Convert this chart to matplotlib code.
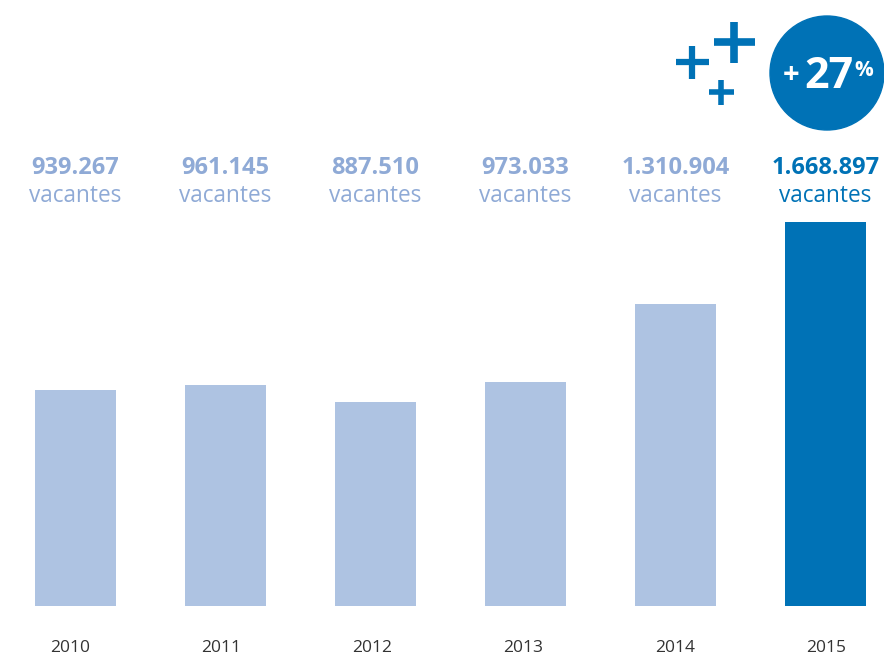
import matplotlib.pyplot as plt
from matplotlib.patches import Ellipse
from matplotlib.lines import Line2D

# data
years = ["2010", "2011", "2012", "2013", "2014", "2015"]
vacantes = [939267, 961145, 887510, 973033, 1310904, 1668897]
value_labels = ["939.267", "961.145", "887.510", "973.033", "1.310.904", "1.668.897"]
growth_label = "27"

light = "#aec3e2"
light_text = "#8faad6"
dark = "#0072b6"

plt.rcParams['font.family'] = ['Open Sans', 'DejaVu Sans']

W, H = 884, 657
fig = plt.figure(figsize=(W / 100, H / 100), dpi=100)
ax = fig.add_axes([0, 51 / H, 1, 606 / H])

x = list(range(len(years)))
colors = [light] * (len(years) - 1) + [dark]
ax.bar(x, vacantes, width=0.54, color=colors)
ax.set_xlim(-75.5 / 150, (W - 75.5) / 150)
ax.set_ylim(0, max(vacantes) * 606 / 384)
ax.axis("off")

# labels above the bars and years below
for i, (lab, yr) in enumerate(zip(value_labels, years)):
    c = dark if i == len(years) - 1 else light_text
    xf = (75.5 + 150 * i) / W
    fig.text(xf, 1 - 168 / H, lab, ha="center", va="center", fontsize=17,
             fontweight="bold", color=c)
    fig.text(xf, 1 - 196 / H, "vacantes", ha="center", va="center",
             fontsize=16.3, color=c)
    fig.text((70 + 151.2 * i) / W, 1 - 648 / H, yr, ha="center", va="center",
             fontsize=12.5, color="#333333")

# growth badge
circ = Ellipse((827 / W, 1 - 73 / H), 114 / W, 114 / H,
               transform=fig.transFigure, color=dark, zorder=3)
fig.patches.append(circ)
fig.text(791 / W, 1 - 75 / H, "+", ha="center", va="center", fontsize=21,
         fontweight="bold", color="white", zorder=4)
fig.text(829 / W, 1 - 76 / H, growth_label, ha="center", va="center",
         fontsize=31, fontweight="bold", color="white", zorder=4)
fig.text(864 / W, 1 - 71 / H, "%", ha="center", va="center", fontsize=15,
         fontweight="bold", color="white", zorder=4)

# decorative plus signs
for cx, cy, half, lw in [(734, 42, 20.5, 5.5), (692, 62, 16.5, 4.5),
                         (721, 92, 12.5, 4)]:
    fig.lines.append(Line2D([(cx - half) / W, (cx + half) / W],
                            [1 - cy / H, 1 - cy / H], transform=fig.transFigure,
                            color=dark, lw=lw, solid_capstyle="butt"))
    fig.lines.append(Line2D([cx / W, cx / W],
                            [1 - (cy - half) / H, 1 - (cy + half) / H],
                            transform=fig.transFigure,
                            color=dark, lw=lw, solid_capstyle="butt"))

fig.savefig("out.png", dpi=100)
